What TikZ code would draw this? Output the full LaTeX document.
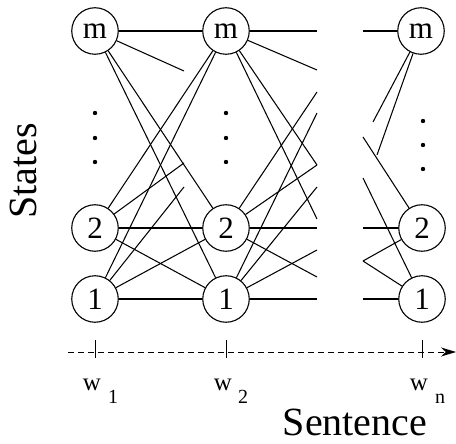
\documentclass[tikz,border=0pt]{standalone}
\usepackage{fontspec}
\setmainfont{Liberation Serif}
\usetikzlibrary{arrows.meta}
\tikzset{
  state/.style={circle,draw,line width=1.1pt,minimum size=46.5pt,inner sep=0pt,font=\fontsize{31}{31}\selectfont},
  edge/.style={line width=1.05pt},
  dotmark/.style={fill=black},
  wlab/.style={anchor=base,inner sep=0pt,font=\fontsize{25}{25}\selectfont},
  sublab/.style={anchor=base,inner sep=0pt,font=\fontsize{20}{20}\selectfont},
  biglab/.style={anchor=base,inner sep=0pt,font=\fontsize{40}{40}\selectfont}
}
\begin{document}
\begin{tikzpicture}[x=1pt,y=-1pt]
\useasboundingbox (0,0) rectangle (456,444);
% states
\node[state] (m1) at (95,31) {m};
\node[state] (b1) at (95,228) {2};
\node[state] (a1) at (95,299) {1};
\node[state] (m2) at (226,31) {m};
\node[state] (b2) at (226,228) {2};
\node[state] (a2) at (226,299) {1};
\node[state] (m3) at (421,31) {m};
\node[state] (b3) at (422,228) {2};
\node[state] (a3) at (422,299) {1};
% dots
\foreach \y in {113,138,162} {\fill[dotmark] (95,\y) circle (2.2pt); \fill[dotmark] (226,\y) circle (2.2pt);}
\foreach \y in {121,145,169} {\fill[dotmark] (423,\y) circle (2.2pt);}
% stub coordinates
\coordinate (p1) at (184,71);
\coordinate (p2) at (184,163);
\coordinate (p3) at (184,187);
\coordinate (q1) at (317,31);
\coordinate (q2) at (317,70);
\coordinate (q3) at (317,92);
\coordinate (q4) at (317,113);
\coordinate (q5) at (317,165);
\coordinate (q6) at (317,187);
\coordinate (q7) at (317,219);
\coordinate (q8) at (317,228);
\coordinate (q9) at (317,250);
\coordinate (q10) at (317,277);
\coordinate (q11) at (317,299);
\coordinate (r1) at (363,31);
\coordinate (r2) at (373,122);
\coordinate (r3) at (377,155);
\coordinate (r4) at (363,137);
\coordinate (r5) at (363,178);
\coordinate (r6) at (363,228);
\coordinate (r7) at (363,261);
\coordinate (r8) at (363,299);
% column 1 edges
\foreach \s in {m1,b1,a1} {\foreach \t in {m2,b2,a2} {\draw[edge] (\s) -- (\t);}}
\draw[edge] (m1) -- (p1);
\draw[edge] (b1) -- (p2);
\draw[edge] (a1) -- (p3);
% column 2 edges
\draw[edge] (m2) -- (q1);
\draw[edge] (m2) -- (q2);
\draw[edge] (m2) -- (q5);
\draw[edge] (m2) -- (q7);
\draw[edge] (b2) -- (q3);
\draw[edge] (b2) -- (q5);
\draw[edge] (b2) -- (q8);
\draw[edge] (b2) -- (q10);
\draw[edge] (a2) -- (q4);
\draw[edge] (a2) -- (q6);
\draw[edge] (a2) -- (q9);
\draw[edge] (a2) -- (q11);
% column 3 edges
\draw[edge] (r1) -- (m3);
\draw[edge] (r2) -- (m3);
\draw[edge] (r3) -- (m3);
\draw[edge] (r4) -- (b3);
\draw[edge] (r5) -- (a3);
\draw[edge] (r6) -- (b3);
\draw[edge] (r7) -- (b3);
\draw[edge] (r7) -- (a3);
\draw[edge] (r8) -- (a3);
% axis
\coordinate (ax0) at (68,352);
\coordinate (ax1) at (456,352);
\draw[line width=1pt,dash pattern=on 5.5pt off 4.5pt,-{Stealth[length=15pt,width=9pt]}] (ax0) -- (ax1);
\foreach \x in {95,226,422} {\draw[line width=1pt] (\x,340) -- (\x,358);}
% labels
\node[wlab] (w1) at (92,390) {w};
\node[sublab] (s1) at (113,403) {1};
\node[wlab] (w2) at (223,390) {w};
\node[sublab] (s2) at (243,403) {2};
\node[wlab] (wn) at (419,390) {w};
\node[sublab] (sn) at (440,403) {n};
\node[biglab] (sent) at (355,435) {Sentence};
\node[biglab,rotate=90] (states) at (36,171) {States};
\end{tikzpicture}
\end{document}
